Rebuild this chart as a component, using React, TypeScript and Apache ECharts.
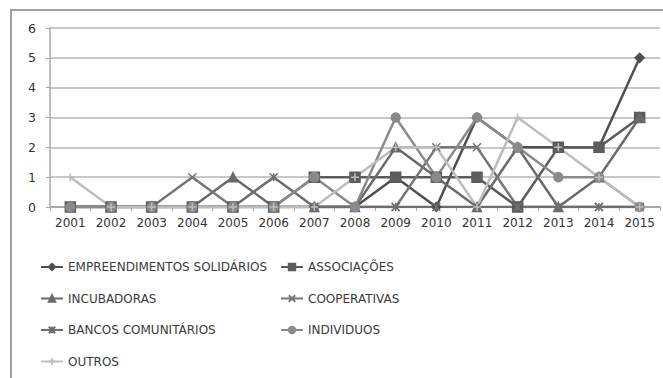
import React, { useEffect, useRef } from "react";
import * as echarts from "echarts";

// Yearly counts by type of actor
const years = ["2001", "2002", "2003", "2004", "2005", "2006", "2007", "2008", "2009", "2010", "2011", "2012", "2013", "2014", "2015"];
const yTicks = [0, 1, 2, 3, 4, 5, 6];

const empreendimentos = [0, 0, 0, 0, 0, 0, 0, 0, 1, 0, 3, 2, 2, 2, 5];
const associacoes = [0, 0, 0, 0, 0, 0, 1, 1, 1, 1, 1, 0, 2, 2, 3];
const incubadoras = [0, 0, 0, 0, 1, 0, 0, 0, 2, 1, 0, 2, 0, 1, 3];
const cooperativas = [0, 0, 0, 1, 0, 0, 0, 0, 0, 2, 2, 0, 0, 0, 0];
const bancos = [0, 0, 0, 0, 0, 1, 0, 0, 0, 0, 0, 0, 0, 0, 0];
const individuos = [0, 0, 0, 0, 0, 0, 1, 0, 3, 1, 3, 2, 1, 1, 0];
const outros = [1, 0, 0, 0, 0, 0, 0, 1, 2, 2, 0, 3, 2, 1, 0];

const seriesDefs = [
  { name: "EMPREENDIMENTOS SOLIDÁRIOS", data: empreendimentos, color: "#4f4f4f", symbol: "diamond", size: 9 },
  { name: "ASSOCIAÇÕES", data: associacoes, color: "#5c5c5c", symbol: "rect", size: 10 },
  { name: "INCUBADORAS", data: incubadoras, color: "#6a6a6a", symbol: "triangle", size: 9 },
  { name: "COOPERATIVAS", data: cooperativas, color: "#767676", symbol: "path://M0,0L10,10M10,0L0,10", size: 8 },
  { name: "BANCOS COMUNITÁRIOS", data: bancos, color: "#6e6e6e", symbol: "path://M0,0L10,10M10,0L0,10M5,0L5,10", size: 8 },
  { name: "INDIVIDUOS", data: individuos, color: "#8a8a8a", symbol: "circle", size: 9 },
  { name: "OUTROS", data: outros, color: "#bdbdbd", symbol: "path://M5,0L5,10M0,5L10,5", size: 8 },
];

const FONT = "DejaVu Sans";

export default function App() {
  const ref = useRef<HTMLDivElement>(null);

  useEffect(() => {
    if (!ref.current) return;
    const chart = echarts.init(ref.current, null, { renderer: "svg" });

    const legendText = { fontFamily: FONT, fontSize: 12, color: "#3a3a3a", lineHeight: 14 };
    const legendBase = {
      orient: "vertical" as const,
      top: 260,
      itemWidth: 22,
      itemHeight: 8,
      itemGap: 17.5,
      textStyle: legendText,
      padding: 0,
      selectedMode: false,
    };

    chart.setOption({
      animation: false,
      backgroundColor: "#ffffff",
      grid: { left: 50, right: 3, top: 28, height: 179 },
      xAxis: {
        type: "category",
        data: years,
        boundaryGap: true,
        axisLine: { lineStyle: { color: "#a8a8a8", width: 2 } },
        axisTick: { show: true, length: 4, lineStyle: { color: "#a8a8a8", width: 1 } },
        axisLabel: { fontFamily: FONT, fontSize: 12, color: "#333", margin: 10, interval: 0, hideOverlap: false },
      },
      yAxis: {
        type: "value",
        min: yTicks[0],
        max: yTicks[yTicks.length - 1],
        interval: 1,
        axisLine: { show: true, lineStyle: { color: "#a8a8a8", width: 1.5 } },
        axisTick: { show: true, length: 4, lineStyle: { color: "#a8a8a8" } },
        splitLine: { lineStyle: { color: "#c8c8c8", width: 2 } },
        axisLabel: { fontFamily: FONT, fontSize: 12.5, color: "#333", margin: 14 },
      },
      legend: [
        { ...legendBase, left: 40, data: [seriesDefs[0].name, seriesDefs[2].name, seriesDefs[4].name, seriesDefs[6].name] },
        { ...legendBase, left: 280, data: [seriesDefs[1].name, seriesDefs[3].name, seriesDefs[5].name] },
      ],
      graphic: [
        {
          type: "rect",
          shape: { x: 11, y: 10, width: 720, height: 420 },
          style: { fill: "none", stroke: "#a0a0a0", lineWidth: 2 },
          silent: true,
          z: 100,
        },
      ],
      series: seriesDefs.map((s) => ({
        name: s.name,
        type: "line",
        data: s.data,
        symbol: s.symbol,
        symbolSize: s.size,
        showAllSymbol: true,
        color: s.color,
        lineStyle: { color: s.color, width: 2.5 },
        itemStyle: { color: s.color, borderColor: s.color, borderWidth: 1.5 },
      })),
    });

    return () => chart.dispose();
  }, []);

  return (
    <div
      ref={ref}
      style={{ position: "fixed", left: 0, top: 0, width: 663, height: 378, background: "#fff" }}
    />
  );
}
